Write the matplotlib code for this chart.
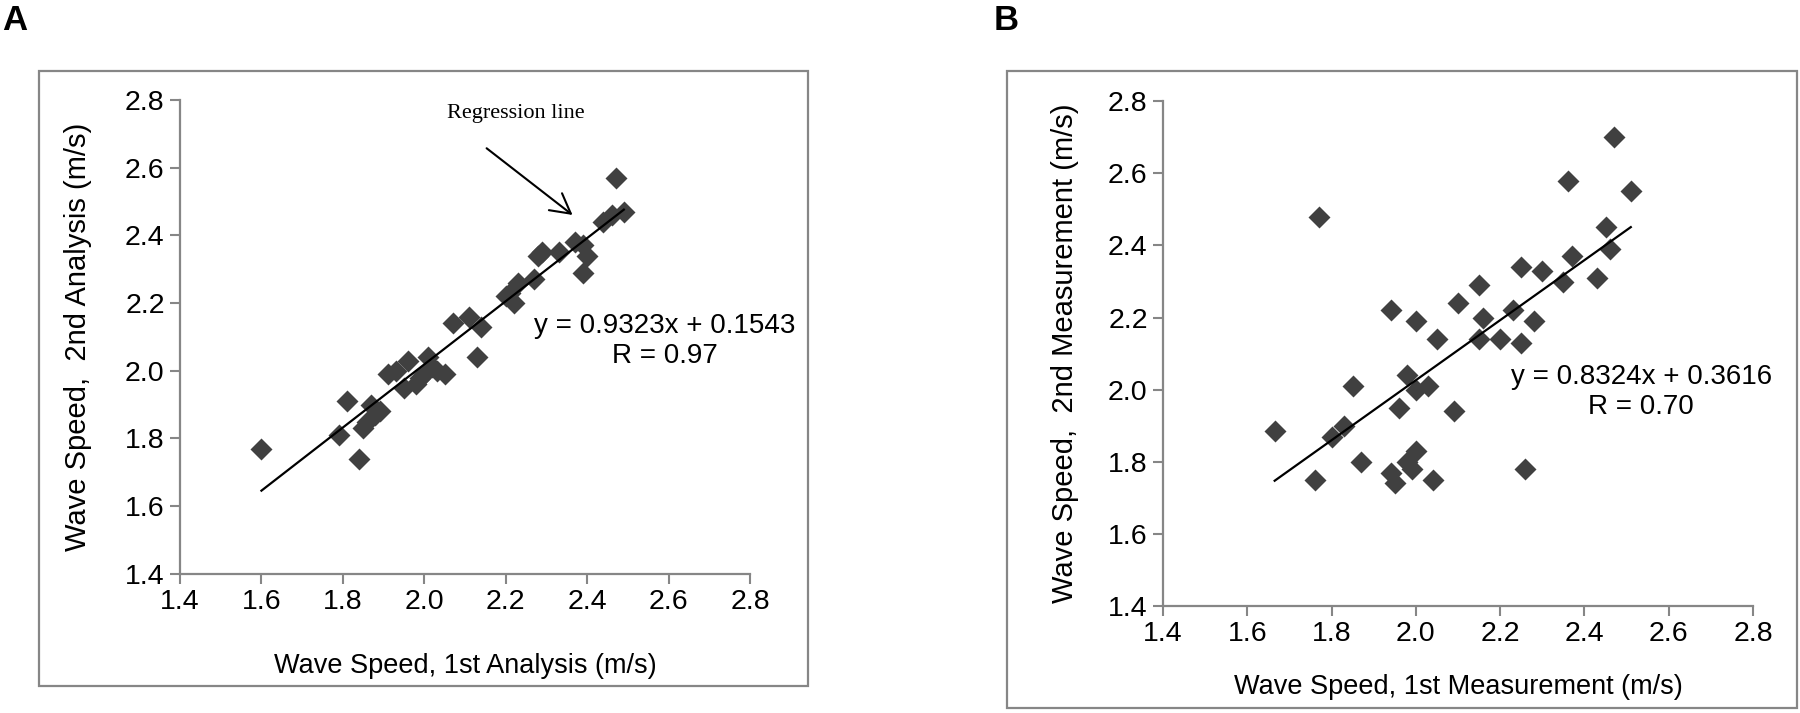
import numpy as np
import matplotlib
matplotlib.use("Agg")
import matplotlib.pyplot as plt
from matplotlib.patches import Rectangle

plt.rcParams['font.family'] = ['Liberation Sans', 'DejaVu Sans']

# Panel A: wave speed from two analyses of the same recording
analysis_1st = [1.60, 1.79, 1.81, 1.84, 1.85, 1.86, 1.87, 1.88, 1.89, 1.91,
                1.93, 1.95, 1.96, 1.98, 1.99, 2.00, 2.01, 2.02, 2.03, 2.05,
                2.07, 2.11, 2.13, 2.14, 2.20, 2.21, 2.22, 2.23, 2.27, 2.28,
                2.29, 2.33, 2.37, 2.39, 2.40, 2.39, 2.44, 2.46, 2.47, 2.49]
analysis_2nd = [1.77, 1.81, 1.91, 1.74, 1.83, 1.85, 1.90, 1.87, 1.88, 1.99,
                2.00, 1.95, 2.03, 1.96, 1.98, 1.99, 2.04, 2.01, 2.00, 1.99,
                2.14, 2.16, 2.04, 2.13, 2.22, 2.23, 2.20, 2.26, 2.27, 2.34,
                2.35, 2.35, 2.38, 2.37, 2.34, 2.29, 2.44, 2.46, 2.57, 2.47]
fit_a = (0.9323, 0.1543)
r_a = 0.97

# Panel B: wave speed from two separate measurements
measure_1st = [1.665, 1.76, 1.77, 1.80, 1.83, 1.85, 1.87, 1.94, 1.94, 1.95,
               1.96, 1.98, 1.98, 1.99, 2.00, 2.00, 2.00, 2.03, 2.04, 2.05,
               2.09, 2.10, 2.15, 2.15, 2.16, 2.20, 2.23, 2.25, 2.25, 2.26,
               2.28, 2.30, 2.35, 2.36, 2.37, 2.43, 2.45, 2.46, 2.47, 2.51]
measure_2nd = [1.885, 1.75, 2.48, 1.87, 1.90, 2.01, 1.80, 1.77, 2.22, 1.74,
               1.95, 2.04, 1.80, 1.78, 1.83, 2.00, 2.19, 2.01, 1.75, 2.14,
               1.94, 2.24, 2.14, 2.29, 2.20, 2.14, 2.22, 2.13, 2.34, 1.78,
               2.19, 2.33, 2.30, 2.58, 2.37, 2.31, 2.45, 2.39, 2.70, 2.55]
fit_b = (0.8324, 0.3616)
r_b = 0.70

ticks = [1.4, 1.6, 1.8, 2.0, 2.2, 2.4, 2.6, 2.8]
tick_labels = ["1.4", "1.6", "1.8", "2.0", "2.2", "2.4", "2.6", "2.8"]

GRAY = '#868686'


def draw_panel(ax, x, y, fit, r, xlabel, ylabel, eq_xy):
    ax.plot(x, y, 'D', color='#404040', ms=11, mec='none', zorder=3)
    slope, intercept = fit
    xs = np.array([min(x), max(x)])
    ax.plot(xs, slope * xs + intercept, color='black', lw=1.6, zorder=4)

    ax.set_xlim(1.4, 2.8)
    ax.set_ylim(1.4, 2.8)
    ax.set_xticks(ticks)
    ax.set_xticklabels(tick_labels)
    ax.set_yticks(ticks)
    ax.set_yticklabels(tick_labels)
    for side in ['top', 'right']:
        ax.spines[side].set_visible(False)
    for side in ['left', 'bottom']:
        ax.spines[side].set_color(GRAY)
        ax.spines[side].set_linewidth(1.6)
    ax.tick_params(direction='out', length=7, width=1.5, color=GRAY,
                   labelsize=20.5, pad=4)

    ax.set_xlabel(xlabel, fontsize=19.5)
    ax.set_ylabel(ylabel, fontsize=21)
    ax.xaxis.label.set_va('center')
    ax.yaxis.label.set_va('center')

    ax.text(eq_xy[0], eq_xy[1], "y = %.4fx + %.4f\nR = %.2f" % (slope, intercept, r),
            ha='center', va='center', multialignment='center', fontsize=20)


fig = plt.figure(figsize=(18, 7.13), dpi=100)

ax_a = fig.add_axes([0.100, 0.195, 0.3167, 0.665])
ax_b = fig.add_axes([0.6461, 0.150, 0.3278, 0.708])

draw_panel(ax_a, analysis_1st, analysis_2nd, fit_a, r_a,
           "Wave Speed, 1st Analysis (m/s)", "Wave Speed,  2nd Analysis (m/s)",
           (2.59, 2.087))
draw_panel(ax_b, measure_1st, measure_2nd, fit_b, r_b,
           "Wave Speed, 1st Measurement (m/s)", "Wave Speed,  2nd Measurement (m/s)",
           (2.535, 1.993))

ax_a.xaxis.set_label_coords(0.5, -0.195)
ax_a.yaxis.set_label_coords(-0.179, 0.5)
ax_b.xaxis.set_label_coords(0.5, -0.16)
ax_b.yaxis.set_label_coords(-0.166, 0.5)

# arrow pointing at the fitted line in panel A
ax_a.annotate("", xy=(2.364, 2.460), xytext=(2.153, 2.657),
              arrowprops=dict(arrowstyle='->,head_length=1.0,head_width=0.55',
                              color='black', lw=1.5, shrinkA=0, shrinkB=0,
                              mutation_scale=14))
ax_a.text(2.225, 2.76, "Regression line", family='Liberation Serif',
          fontsize=16, ha='center', va='center')

# gray frames round each panel
fig.add_artist(Rectangle((0.0217, 0.0379), 0.4272, 0.8626, transform=fig.transFigure,
                         fill=False, edgecolor=GRAY, lw=1.6))
fig.add_artist(Rectangle((0.5594, 0.007), 0.4389, 0.8934, transform=fig.transFigure,
                         fill=False, edgecolor=GRAY, lw=1.6))

fig.text(0.001, 0.995, "A", fontsize=25, fontweight='bold', va='top', ha='left')
fig.text(0.552, 0.995, "B", fontsize=25, fontweight='bold', va='top', ha='left')

fig.savefig("out.png", dpi=100)
